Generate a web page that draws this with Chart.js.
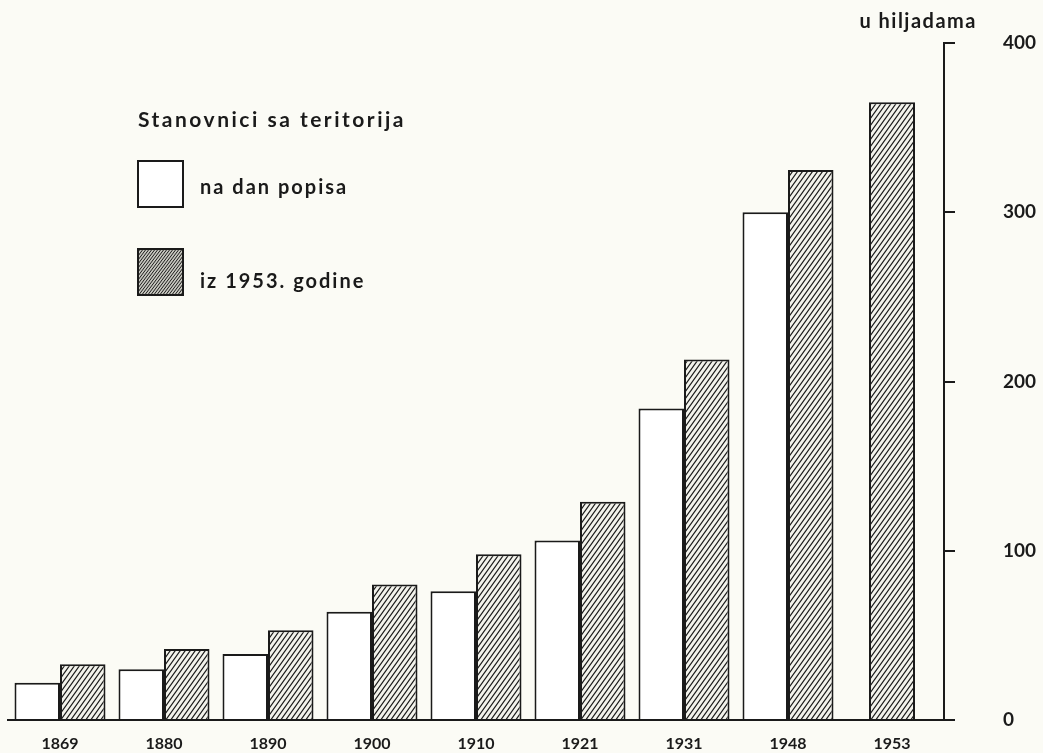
<!DOCTYPE html>
<html>
<head>
<meta charset="utf-8">
<script src="https://cdn.jsdelivr.net/npm/chart.js@4"></script>
<style>
  body { margin: 0; background: #fbfbf5; }
  #chart { display: block; }
</style>
</head>
<body>
<canvas id="chart" width="1043" height="753"></canvas>
<script>
// census years
const years = ["1869", "1880", "1890", "1900", "1910", "1921", "1931", "1948", "1953"];
// population in thousands, territory as on census day (1953 drawn only once)
const censusDay = [22, 30, 39, 64, 76, 106, 184, 300, null];
// population in thousands, territory as of 1953
const territory1953 = [33, 42, 53, 80, 98, 129, 213, 325, 365];
const yTicks = [0, 100, 200, 300, 400];
const legendTitle = "Stanovnici sa teritorija";
const unitLabel = "u hiljadama";

const ink = "#1a1a1a";
const font = "Lato, 'Open Sans', sans-serif";

// diagonal hatch used for the 1953-territory bars
function makeHatch(w, h, lw, bg) {
  const c = document.createElement("canvas");
  c.width = w;
  c.height = h;
  const g = c.getContext("2d");
  g.fillStyle = bg;
  g.fillRect(0, 0, w, h);
  g.strokeStyle = ink;
  g.lineWidth = lw;
  g.beginPath();
  g.moveTo(-w, 2 * h); g.lineTo(2 * w, -h);
  g.moveTo(-2 * w, 2 * h); g.lineTo(w, -h);
  g.moveTo(0, 2 * h); g.lineTo(3 * w, -h);
  g.stroke();
  return g.createPattern(c, "repeat");
}
const hatch = makeHatch(5, 7, 1.2, "#f3f3ec");
const hatchDense = makeHatch(3, 4, 1, "#c8c8c0");

// legend + unit label drawn on the canvas
const notes = {
  id: "notes",
  afterDraw(chart) {
    const ctx = chart.ctx;
    ctx.save();
    ctx.fillStyle = ink;
    ctx.textBaseline = "middle";
    ctx.font = "bold 21px " + font;
    ctx.letterSpacing = "2.5px";
    ctx.fillText(legendTitle, 138, 120);
    ctx.font = "bold 20px " + font;
    ctx.letterSpacing = "2px";
    chart.data.datasets.forEach((ds, i) => {
      const y = 161 + i * 88;
      ctx.fillStyle = i === 1 ? hatchDense : ds.backgroundColor;
      ctx.fillRect(138, y, 45, 46);
      ctx.strokeStyle = ink;
      ctx.lineWidth = 2;
      ctx.strokeRect(138, y, 45, 46);
      ctx.fillStyle = ink;
      ctx.fillText(ds.label, 200, y + 27 + i * 6);
    });
    ctx.textAlign = "right";
    ctx.font = "bold 20px " + font;
    ctx.letterSpacing = "1.5px";
    ctx.fillText(unitLabel, 977, 22);
    ctx.restore();
  }
};

const myChart = new Chart(document.getElementById("chart"), {
  type: "bar",
  plugins: [notes],
  data: {
    labels: years,
    datasets: [
      {
        label: "na dan popisa",
        data: censusDay,
        backgroundColor: "#ffffff",
        borderColor: ink,
        borderWidth: 2,
      },
      {
        label: "iz 1953. godine",
        data: territory1953,
        backgroundColor: hatch,
        borderColor: ink,
        borderWidth: 2,
      },
    ],
  },
  options: {
    responsive: false,
    animation: false,
    skipNull: true,
    maxBarThickness: 46,
    categoryPercentage: 0.875,
    barPercentage: 1,
    layout: { padding: { left: 8, right: 7, top: 43, bottom: 1 } },
    plugins: {
      legend: { display: false },
      tooltip: { enabled: false },
    },
    scales: {
      x: {
        afterFit: (axis) => {
          axis.height = 32;
          axis.paddingLeft = 0;
          axis.paddingRight = 0;
        },
        grid: { display: false, drawTicks: false },
        border: { display: true, color: ink, width: 2 },
        ticks: { color: ink, padding: 14, font: { family: font, size: 16, weight: "bold" } },
      },
      y: {
        position: "right",
        min: 0,
        max: 400,
        afterFit: (axis) => {
          axis.width = 92;
          axis.paddingTop = 0;
          axis.paddingBottom = 0;
        },
        afterBuildTicks: (axis) => { axis.ticks = yTicks.map((v) => ({ value: v })); },
        grid: { drawOnChartArea: false, drawTicks: true, tickLength: 11, color: ink, lineWidth: 2 },
        border: { display: true, color: ink, width: 2 },
        ticks: { color: ink, padding: 48, font: { family: font, size: 19, weight: "bold" } },
      },
    },
  },
});
</script>
</body>
</html>
